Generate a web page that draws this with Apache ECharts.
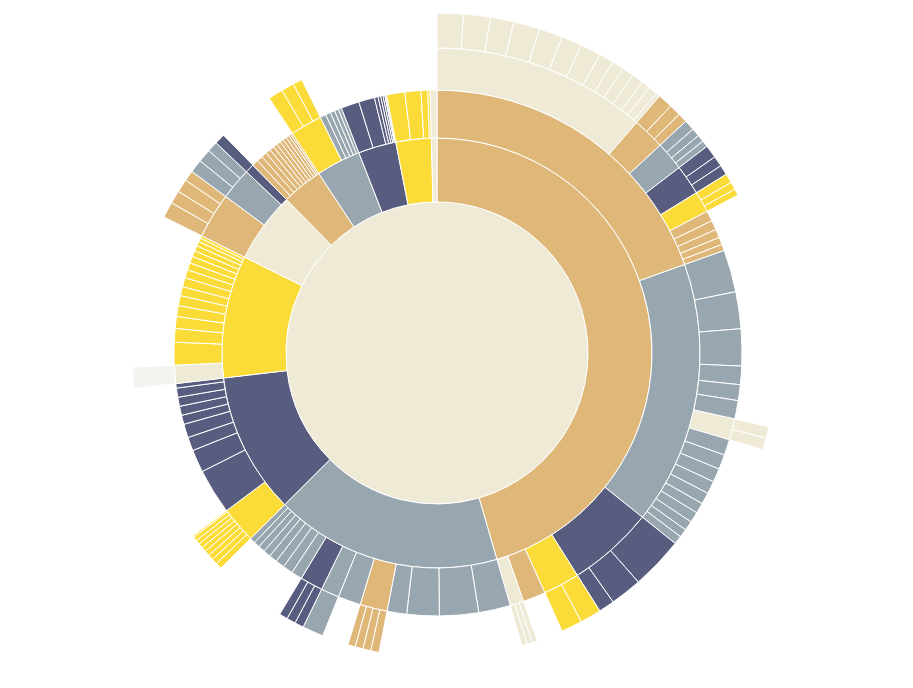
<!DOCTYPE html>
<html>
<head>
<meta charset="utf-8">
<script src="https://cdn.jsdelivr.net/npm/echarts@6/dist/echarts.min.js"></script>
<style>html,body{margin:0;padding:0;background:#fff}#main{width:913px;height:688px}</style>
</head>
<body>
<div id="main"></div>
<script>
// colour keys: 0 tan, 1 grey, 2 navy, 3 yellow, 4 beige
var palette = ['#DFB879', '#98A6AF', '#585D80', '#FADB37', '#EEEAD6'];

// leaf value lists (degrees of arc)
var topBeigeLeaves = [4.5, 4.5, 4, 4.5, 4, 3.5, 3.5, 2.5, 2, 2, 2, 1.5, 1.5, 0.7];
var a1TanLeaves = [2.5, 2, 1.6];
var a1GreyLeaves = [1.8, 1.4, 1.2, 1.1];
var a1NavyLeaves = [2.2, 1.8, 1.7];
var a1YellowLeaves = [1.6, 1.3, 1.1];
var a1TanStripes = [2, 1.8, 1.6, 1.4, 1.2];
var a2GreySlices = [8, 7, 7, 3.5, 3, 3.5];
var a2BeigeLeaves = [2, 2];
var a2GreyStripes = [3, 2.8, 2.6, 2.4, 2.2, 2, 2, 1.8, 1.6, 1.6];
var a3NavySlices = [10, 6, 3];
var a4YellowSlices = [4, 4];
var a6BeigeLeaves = [1, 1, 1];
var bGreySlices = [7, 8.6, 7.1, 4.3];
var bTanLeaves = [1.6, 1.5, 1.5, 1.4];
var bNavyLeaves = [1.7, 1.7, 1.6];
var bGreyStripes = [2.4, 2.2, 2, 1.8, 1.6, 1.5, 1.3, 1.2];
var cYellowLeaves = [1.2, 1.1, 1, 1, 0.9, 0.9, 0.8, 0.8, 0.3];
var cNavySlices = [10, 5, 3, 3, 2, 2, 2, 2, 1];
var dYellowStripes = [5, 3, 2.6, 2.4, 2.2, 2, 2, 1.8, 1.6, 1.5, 1.3, 1.2, 1, 0.8, 0.6];
var eTanLeaves = [3, 2.5, 2.5, 2];
var eGreyLeaves = [2.5, 2.5, 2];
var fTanStripes = [1.4, 1.3, 1.2, 1.1, 1, 0.9, 0.9, 0.8, 0.8, 0.7, 0.5, 0.4];
var gYellowLeaves = [2.8, 2.4, 1.8];
var gGreyStripes = [1.3, 1.1, 1, 0.9, 0.7];
var hNavySlices = [4, 3.5, 0.8, 0.6, 0.5, 0.4, 0.2, 0.2];
var iYellowSlices = [4, 3.5, 1.5, 0.5];

function leaf(c, v) { return { value: v, itemStyle: { color: palette[c] } }; }
function node(c, children) { return { itemStyle: { color: palette[c] }, children: children }; }
function leaves(c, arr) { return arr.map(function (v) { return leaf(c, v); }); }

var data = [node(4, [
  // A tan
  node(0, [
    node(0, [
      node(4, leaves(4, topBeigeLeaves)),
      node(0, leaves(0, a1TanLeaves)),
      node(1, leaves(1, a1GreyLeaves)),
      node(2, leaves(2, a1NavyLeaves)),
      node(3, leaves(3, a1YellowLeaves))
    ].concat(leaves(0, a1TanStripes))),
    node(1, leaves(1, a2GreySlices).concat([node(4, leaves(4, a2BeigeLeaves))], leaves(1, a2GreyStripes))),
    node(2, leaves(2, a3NavySlices)),
    node(3, leaves(3, a4YellowSlices)),
    leaf(0, 5),
    node(4, leaves(4, a6BeigeLeaves))
  ]),
  // B grey
  node(1, leaves(1, bGreySlices).concat([
    node(0, leaves(0, bTanLeaves)),
    leaf(1, 5),
    node(1, [leaf(1, 4)]),
    node(2, leaves(2, bNavyLeaves))
  ], leaves(1, bGreyStripes))),
  // C navy
  node(2, [node(3, leaves(3, cYellowLeaves))].concat(leaves(2, cNavySlices))),
  // D yellow
  node(3, [node(4, [{ value: 4, itemStyle: { color: '#F3F3EF' } }])].concat(leaves(3, dYellowStripes))),
  // E beige
  node(4, [node(0, leaves(0, eTanLeaves)), node(1, leaves(1, eGreyLeaves)), node(2, [leaf(2, 2)])]),
  // F tan
  node(0, leaves(0, fTanStripes)),
  // G grey
  node(1, [node(3, leaves(3, gYellowLeaves))].concat(leaves(1, gGreyStripes))),
  // H navy
  node(2, leaves(2, hNavySlices)),
  // I yellow
  node(3, leaves(3, iYellowSlices)),
  // J beige
  node(4, [leaf(4, 1.5)])
])];

var chart = echarts.init(document.getElementById('main'));
chart.setOption({
  animation: false,
  series: [{
    type: 'sunburst',
    center: [437, 353],
    radius: [0, 340],
    sort: null,
    startAngle: 90,
    nodeClick: false,
    data: data,
    label: { show: false },
    itemStyle: { borderColor: '#fff', borderWidth: 1 },
    emphasis: { disabled: true },
    levels: [
      {},
      { r0: 0, r: 151 },
      { r0: 151, r: 215 },
      { r0: 215, r: 263 },
      { r0: 263, r: 305 },
      { r0: 305, r: 340 }
    ]
  }]
});
</script>
</body>
</html>
